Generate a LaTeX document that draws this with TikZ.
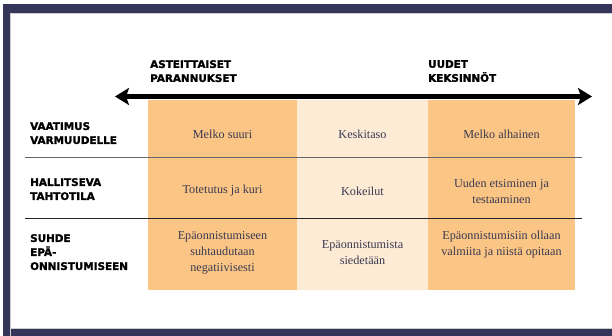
\documentclass[tikz,border=0pt]{standalone}
\usepackage{fontspec}
\usetikzlibrary{arrows.meta}
\newfontfamily\labfont{DejaVu Sans}[BoldFont={DejaVu Sans Bold}, BoldFeatures={FakeBold=1.6}]
\newfontfamily\cellfont{Liberation Serif}
\definecolor{navy}{HTML}{35355A}
\definecolor{orng}{HTML}{FBC585}
\definecolor{lightorng}{HTML}{FDEBD6}
\definecolor{celltxt}{HTML}{3A3A50}
\tikzset{
  rowlabel/.style={anchor=north west, inner sep=0pt, align=left,
    font=\labfont\bfseries\fontsize{10.4}{14}\selectfont, text=black},
  toplabel/.style={rowlabel},
  celltext/.style={anchor=center, inner sep=0pt, align=center,
    font=\cellfont\fontsize{12.2}{16}\selectfont, text=celltxt},
  rule/.style={line width=1pt, draw=black!70},
}
\begin{document}
\begin{tikzpicture}[x=1pt,y=-1pt]
\useasboundingbox (0,0) rectangle (612,336);
\fill[white] (0,0) rectangle (612,336);
% frame
\fill[navy] (3,4) rectangle (612,13);
\fill[navy] (3,4) rectangle (10,336);
\fill[navy] (3,329) rectangle (612,336);
\draw[black!20, line width=0.8pt] (10.5,336) -- (10.5,13.5) -- (612,13.5);
\draw[black!20, line width=0.8pt] (10.5,328.5) -- (612,328.5);
% columns
\fill[orng] (148,100) rectangle (297,290);
\fill[lightorng] (297,100) rectangle (428,290);
\fill[orng] (428,100) rectangle (575,290);
% arrow
\coordinate (aL) at (115,96.5);
\coordinate (aR) at (592,96.5);
\draw[line width=4.5pt, {Stealth[length=14pt,width=17pt,inset=3pt]}-{Stealth[length=14pt,width=17pt,inset=3pt]}] (aL) -- (aR);
% top labels
\node[toplabel] (tl) at (150,60) {ASTEITTAISET\\PARANNUKSET};
\node[toplabel] (tr) at (428,60) {UUDET\\KEKSINNÖT};
% rules
\coordinate (r1a) at (25,158);
\coordinate (r1b) at (582,158);
\coordinate (r2a) at (25,219);
\coordinate (r2b) at (582,219);
\draw[rule, draw=black!60] (r1a) -- (r1b);
\draw[rule, draw=black!85] (r2a) -- (r2b);
% row labels
\node[rowlabel] (l1) at (30,122) {VAATIMUS\\VARMUUDELLE};
\node[rowlabel] (l2) at (30,178) {HALLITSEVA\\TAHTOTILA};
\node[rowlabel] (l3) at (30,234) {SUHDE\\EPÄ-\\ONNISTUMISEEN};
% cells
\node[celltext] (c11) at (222.5,134) {Melko suuri};
\node[celltext] (c12) at (362.5,134) {Keskitaso};
\node[celltext] (c13) at (501.5,134) {Melko alhainen};
\node[celltext] (c21) at (222.5,191) {Totetutus ja kuri};
\node[celltext] (c22) at (362.5,191) {Kokeilut};
\node[celltext] (c23) at (501.5,191.5) {Uuden etsiminen ja\\testaaminen};
\node[celltext] (c31) at (222.5,253) {Epäonnistumiseen\\suhtaudutaan\\negatiivisesti};
\node[celltext] (c32) at (362.5,253) {Epäonnistumista\\siedetään};
\node[celltext] (c33) at (501.5,245) {Epäonnistumisiin ollaan\\valmiita ja niistä opitaan};
\end{tikzpicture}
\end{document}
